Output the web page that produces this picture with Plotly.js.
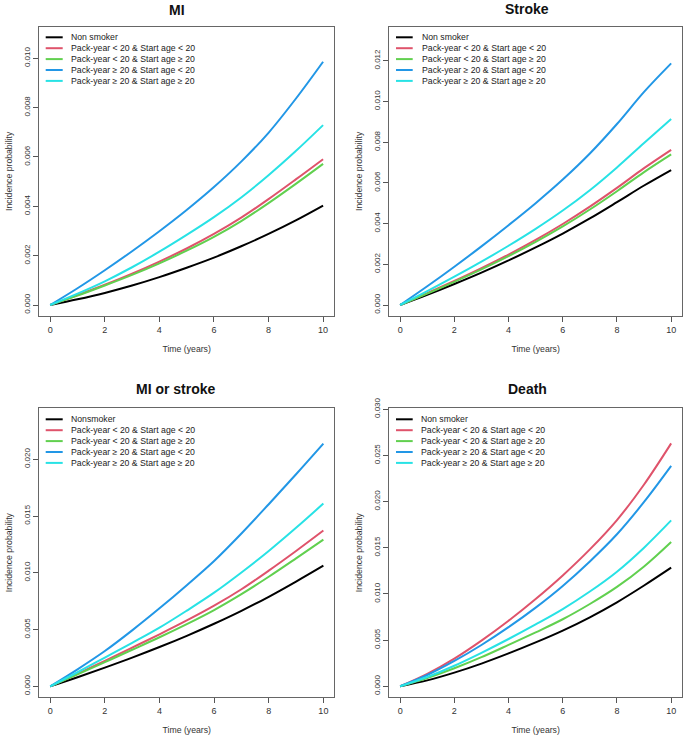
<!DOCTYPE html>
<html>
<head>
<meta charset="utf-8">
<script src="https://cdn.plot.ly/plotly-3.0.1.min.js"></script>
<style>html,body{margin:0;padding:0;background:#fff;}#chart{width:685px;height:742px;}</style>
</head>
<body>
<div id="chart"></div>
<script>
// ---------- DATA ----------
const years = [0, 1, 2, 3, 4, 5, 6, 7, 8, 9, 10];

const panelTitles = ["MI", "Stroke", "MI or stroke", "Death"];
const xTitle = "Time (years)";
const yTitle = "Incidence probability";
const xTicks = [0, 2, 4, 6, 8, 10];

const legendLabelsA = ["Non smoker", "Pack-year < 20 & Start age < 20", "Pack-year < 20 & Start age \u2265 20", "Pack-year \u2265 20 & Start age < 20", "Pack-year \u2265 20 & Start age \u2265 20"];
const legendLabelsB = ["Nonsmoker", "Pack-year < 20 & Start age < 20", "Pack-year < 20 & Start age \u2265 20", "Pack-year \u2265 20 & Start age < 20", "Pack-year \u2265 20 & Start age \u2265 20"];

// MI
const miNonSmoker    = [0, 0.00023, 0.00049, 0.00079, 0.00113, 0.00151, 0.00192, 0.00238, 0.00288, 0.00343, 0.00403];
const miPyLt20SaLt20 = [0, 0.00040, 0.00082, 0.00127, 0.00176, 0.00229, 0.00288, 0.00354, 0.00429, 0.00509, 0.00591];
const miPyLt20SaGe20 = [0, 0.00038, 0.00079, 0.00122, 0.00169, 0.00220, 0.00276, 0.00340, 0.00413, 0.00491, 0.00572];
const miPyGe20SaLt20 = [0, 0.00068, 0.00141, 0.00218, 0.00299, 0.00385, 0.00478, 0.00581, 0.00698, 0.00836, 0.00986];
const miPyGe20SaGe20 = [0, 0.00046, 0.00096, 0.00153, 0.00216, 0.00284, 0.00356, 0.00436, 0.00526, 0.00624, 0.00729];

// Stroke
const stNonSmoker    = [0, 0.00050, 0.00103, 0.00159, 0.00219, 0.00283, 0.00351, 0.00425, 0.00505, 0.00587, 0.00663];
const stPyLt20SaLt20 = [0, 0.00058, 0.00118, 0.00181, 0.00248, 0.00320, 0.00398, 0.00483, 0.00575, 0.00672, 0.00762];
const stPyLt20SaGe20 = [0, 0.00056, 0.00114, 0.00175, 0.00240, 0.00310, 0.00386, 0.00469, 0.00559, 0.00653, 0.00740];
const stPyGe20SaLt20 = [0, 0.00092, 0.00188, 0.00288, 0.00392, 0.00500, 0.00616, 0.00744, 0.00889, 0.01047, 0.01187];
const stPyGe20SaGe20 = [0, 0.00068, 0.00139, 0.00213, 0.00291, 0.00374, 0.00464, 0.00564, 0.00676, 0.00796, 0.00914];

// MI or stroke
const msNonSmoker    = [0, 0.00080, 0.00165, 0.00253, 0.00346, 0.00445, 0.00551, 0.00665, 0.00789, 0.00923, 0.01063];
const msPyLt20SaLt20 = [0, 0.00110, 0.00225, 0.00341, 0.00458, 0.00580, 0.00710, 0.00855, 0.01019, 0.01192, 0.01372];
const msPyLt20SaGe20 = [0, 0.00105, 0.00213, 0.00322, 0.00432, 0.00548, 0.00672, 0.00812, 0.00965, 0.01127, 0.01292];
const msPyGe20SaLt20 = [0, 0.00150, 0.00311, 0.00493, 0.00687, 0.00891, 0.01104, 0.01346, 0.01604, 0.01868, 0.02138];
const msPyGe20SaGe20 = [0, 0.00124, 0.00253, 0.00383, 0.00517, 0.00667, 0.00825, 0.01003, 0.01192, 0.01396, 0.01610];

// Death
const deNonSmoker    = [0, 0.00064, 0.00148, 0.00246, 0.00356, 0.00475, 0.00603, 0.00747, 0.00909, 0.01091, 0.01284];
const dePyLt20SaLt20 = [0, 0.00135, 0.00300, 0.00495, 0.00710, 0.00945, 0.01200, 0.01482, 0.01800, 0.02185, 0.02630];
const dePyLt20SaGe20 = [0, 0.00090, 0.00195, 0.00315, 0.00448, 0.00584, 0.00726, 0.00891, 0.01076, 0.01298, 0.01563];
const dePyGe20SaLt20 = [0, 0.00122, 0.00274, 0.00447, 0.00640, 0.00852, 0.01087, 0.01352, 0.01646, 0.01996, 0.02386];
const dePyGe20SaGe20 = [0, 0.00100, 0.00222, 0.00362, 0.00512, 0.00670, 0.00836, 0.01026, 0.01241, 0.01501, 0.01796];

const yTicksMI = [0, 0.002, 0.004, 0.006, 0.008, 0.010];
const yTicksStroke = [0, 0.002, 0.004, 0.006, 0.008, 0.010, 0.012];
const yTicksMS = [0, 0.005, 0.010, 0.015, 0.020];
const yTicksDeath = [0, 0.005, 0.010, 0.015, 0.020, 0.025, 0.030];

// ---------- STYLE / LAYOUT ----------
const W = 685, H = 742;
const colors = ["#000000", "#DF536B", "#61D04F", "#2297E6", "#28E2E5"];
const FONT = "Liberation Sans, Arial, Helvetica, sans-serif";
const px = x => x / W;
const py = y => 1 - y / H;

const panels = [
  { series: [miNonSmoker, miPyLt20SaLt20, miPyLt20SaGe20, miPyGe20SaLt20, miPyGe20SaGe20], labels: legendLabelsA,
    yTicks: yTicksMI, yRange: [-0.000446, 0.01128],
    box: [39.3, 334, 26.7, 316], titleX: 177, titleY: 10, legX: [45.7, 62.7, 69.3], legY: 37.3 },
  { series: [stNonSmoker, stPyLt20SaLt20, stPyLt20SaGe20, stPyGe20SaLt20, stPyGe20SaGe20], labels: legendLabelsA,
    yTicks: yTicksStroke, yRange: [-0.00054, 0.01367],
    box: [389.3, 682, 26.7, 316], titleX: 526.5, titleY: 9, legX: [396, 412.7, 419.7], legY: 37.3 },
  { series: [msNonSmoker, msPyLt20SaLt20, msPyLt20SaGe20, msPyGe20SaLt20, msPyGe20SaGe20], labels: legendLabelsB,
    yTicks: yTicksMS, yRange: [-0.00094, 0.02449],
    box: [39.3, 334.3, 408.3, 697], titleX: 176, titleY: 388.5, legX: [45.7, 62.7, 69.3], legY: 419.3 },
  { series: [deNonSmoker, dePyLt20SaLt20, dePyLt20SaGe20, dePyGe20SaLt20, dePyGe20SaGe20], labels: legendLabelsA,
    yTicks: yTicksDeath, yRange: [-0.00116, 0.0301],
    box: [389.3, 682, 408.3, 697], titleX: 527.3, titleY: 388.5, legX: [396, 412.7, 419.3], legY: 419.3 }
];

const traces = [];
const annotations = [];
const shapes = [];
const layout = {
  width: W, height: H,
  margin: { l: 0, r: 0, t: 0, b: 0, pad: 0 },
  paper_bgcolor: "#ffffff", plot_bgcolor: "#ffffff",
  showlegend: false,
  font: { family: FONT, color: "#222" }
};

const rowGap = 10.9;

panels.forEach((p, i) => {
  const n = i + 1;
  const xa = "x" + (n === 1 ? "" : n), ya = "y" + (n === 1 ? "" : n);
  const xKey = "xaxis" + (n === 1 ? "" : n), yKey = "yaxis" + (n === 1 ? "" : n);
  p.series.forEach((vals, k) => {
    traces.push({
      x: years, y: vals, type: "scatter", mode: "lines",
      name: p.labels[k], xaxis: xa, yaxis: ya,
      line: { color: colors[k], width: 2, shape: "spline", smoothing: 1 },
      hoverinfo: "x+y+name"
    });
  });
  const [l, r, t, b] = p.box;
  layout[xKey] = {
    domain: [px(l), px(r)], anchor: ya, range: [-0.4, 10.4],
    tickmode: "array", tickvals: xTicks, ticks: "outside", ticklen: 5, tickwidth: 1, tickcolor: "#555",
    showline: true, mirror: true, linecolor: "#666", linewidth: 1,
    showgrid: false, zeroline: false,
    tickfont: { family: FONT, size: 9, color: "#333" },
    title: { text: xTitle, font: { family: FONT, size: 8.7, color: "#333" }, standoff: 12 },
    automargin: false
  };
  layout[yKey] = {
    domain: [py(b), py(t)], anchor: xa, range: p.yRange,
    tickmode: "array", tickvals: p.yTicks, tickformat: ".3f", tickangle: -90,
    ticks: "outside", ticklen: 5, tickwidth: 1, tickcolor: "#555",
    showline: true, mirror: true, linecolor: "#666", linewidth: 1,
    showgrid: false, zeroline: false,
    tickfont: { family: FONT, size: 8, color: "#333" },
    title: { text: yTitle, font: { family: FONT, size: 8.7, color: "#333" }, standoff: 9 },
    automargin: false
  };
  annotations.push({
    text: "<b>" + panelTitles[i] + "</b>", xref: "paper", yref: "paper",
    x: px(p.titleX), y: py(p.titleY), xanchor: "center", yanchor: "middle",
    showarrow: false, font: { family: FONT, size: 14, color: "#111" }
  });
  p.labels.forEach((lab, k) => {
    const yy = p.legY + k * rowGap;
    shapes.push({
      type: "line", xref: "paper", yref: "paper",
      x0: px(p.legX[0]), x1: px(p.legX[1]), y0: py(yy), y1: py(yy),
      line: { color: colors[k], width: 2 }
    });
    annotations.push({
      text: lab, xref: "paper", yref: "paper",
      x: px(p.legX[2]), y: py(yy), xanchor: "left", yanchor: "middle",
      showarrow: false, font: { family: FONT, size: 8.7, color: "#222" }
    });
  });
});

layout.annotations = annotations;
layout.shapes = shapes;

Plotly.newPlot("chart", traces, layout, { staticPlot: true, displayModeBar: false });
</script>
</body>
</html>
